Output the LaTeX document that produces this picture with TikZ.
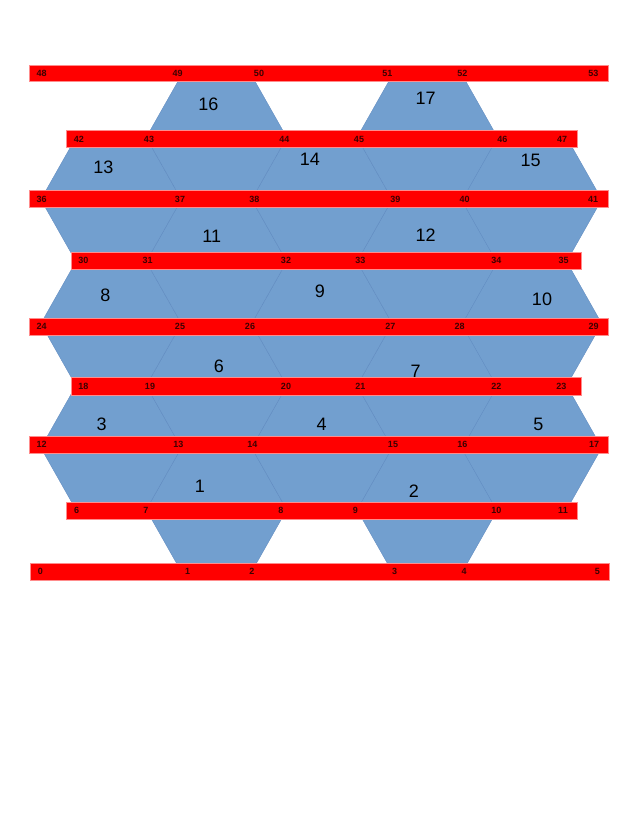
\documentclass[tikz,border=0pt]{standalone}
\usepackage{fontspec}
\setmainfont{Liberation Sans}
\usepackage{xcolor}
\definecolor{barred}{RGB}{255, 0, 0}
\definecolor{barrim}{RGB}{255, 140, 140}
\definecolor{cellblue}{RGB}{114, 159, 207}
\definecolor{cellrim}{RGB}{96, 138, 192}
\definecolor{labeldark}{RGB}{60, 0, 0}

\begin{document}
\begin{tikzpicture}[
    x=1pt, y=-1pt,
    hexcell/.pic={\path[fill=cellblue, draw=cellrim, line width=0.35pt] (-70.3,0) -- (-35.15,-62.05) -- (35.15,-62.05) -- (70.3,0) -- (35.15,62.05) -- (-35.15,62.05) -- cycle;},
    redbar/.style={fill=barred, draw=barrim, line width=0.6pt},
    hexnum/.style={font=\fontsize{18}{18}\selectfont, text=black, inner sep=0pt},
    vlabel/.style={font=\fontsize{9}{9}\selectfont\bfseries, text=labeldark, inner sep=0pt}
]
    \useasboundingbox (0,0) rectangle (638,825);

    % honeycomb cells
    \pic at (216.5,509.7) {hexcell};
    \pic at (427.3,509.7) {hexcell};
    \pic at (111.1,447.7) {hexcell};
    \pic at (321.9,447.7) {hexcell};
    \pic at (531.5,447.7) {hexcell};
    \pic at (216.5,385.7) {hexcell};
    \pic at (427.3,385.7) {hexcell};
    \pic at (111.1,323.6) {hexcell};
    \pic at (321.9,323.6) {hexcell};
    \pic at (531.5,323.6) {hexcell};
    \pic at (216.5,261.5) {hexcell};
    \pic at (427.3,261.5) {hexcell};
    \pic at (111.1,199.5) {hexcell};
    \pic at (321.9,199.5) {hexcell};
    \pic at (531.5,199.5) {hexcell};
    \pic at (216.5,137.4) {hexcell};
    \pic at (427.3,137.4) {hexcell};

    % red bars
    \draw[redbar] (30.5,563.3) rectangle (609,580);
    \draw[redbar] (66.7,502) rectangle (577.3,519);
    \draw[redbar] (29.5,436) rectangle (608.5,453);
    \draw[redbar] (71,377.7) rectangle (581.3,395);
    \draw[redbar] (29.5,318.3) rectangle (608.7,335);
    \draw[redbar] (71,252.3) rectangle (581.3,269.3);
    \draw[redbar] (29.5,190.7) rectangle (608.7,207.7);
    \draw[redbar] (66.7,130.7) rectangle (577.3,147.7);
    \draw[redbar] (29.5,65) rectangle (608.7,81.7);

    % cell numbers
    \node[hexnum] (h1) at (200,486.7) {1};
    \node[hexnum] (h2) at (414,491.7) {2};
    \node[hexnum] (h3) at (101.7,424.3) {3};
    \node[hexnum] (h4) at (321.7,424.3) {4};
    \node[hexnum] (h5) at (538.3,424.3) {5};
    \node[hexnum] (h6) at (219,366.7) {6};
    \node[hexnum] (h7) at (415.7,371.7) {7};
    \node[hexnum] (h8) at (105.3,295) {8};
    \node[hexnum] (h9) at (320,291.7) {9};
    \node[hexnum] (h10) at (542,299) {10};
    \node[hexnum] (h11) at (211.7,236.7) {11};
    \node[hexnum] (h12) at (425.7,235.7) {12};
    \node[hexnum] (h13) at (103.3,167.7) {13};
    \node[hexnum] (h14) at (310,159) {14};
    \node[hexnum] (h15) at (530.7,160.7) {15};
    \node[hexnum] (h16) at (208.3,104.3) {16};
    \node[hexnum] (h17) at (425.7,98.3) {17};

    % vertex numbers
    \node[vlabel] (v0) at (40.3,571.7) {0};
    \node[vlabel] (v1) at (187.7,571.7) {1};
    \node[vlabel] (v2) at (252,571.7) {2};
    \node[vlabel] (v3) at (394.7,571.7) {3};
    \node[vlabel] (v4) at (464,571.7) {4};
    \node[vlabel] (v5) at (597.3,571.7) {5};
    \node[vlabel] (v6) at (76.7,510.5) {6};
    \node[vlabel] (v7) at (146,510.5) {7};
    \node[vlabel] (v8) at (281,510.5) {8};
    \node[vlabel] (v9) at (355.3,510.5) {9};
    \node[vlabel] (v10) at (496.3,510.5) {10};
    \node[vlabel] (v11) at (563,510.5) {11};
    \node[vlabel] (v12) at (41.7,444.5) {12};
    \node[vlabel] (v13) at (178.3,444.5) {13};
    \node[vlabel] (v14) at (252.3,444.5) {14};
    \node[vlabel] (v15) at (393,444.5) {15};
    \node[vlabel] (v16) at (462.3,444.5) {16};
    \node[vlabel] (v17) at (594,444.5) {17};
    \node[vlabel] (v18) at (83.3,386.3) {18};
    \node[vlabel] (v19) at (150,386.3) {19};
    \node[vlabel] (v20) at (286,386.3) {20};
    \node[vlabel] (v21) at (360.3,386.3) {21};
    \node[vlabel] (v22) at (496.3,386.3) {22};
    \node[vlabel] (v23) at (561.3,386.3) {23};
    \node[vlabel] (v24) at (41.7,326.7) {24};
    \node[vlabel] (v25) at (180,326.7) {25};
    \node[vlabel] (v26) at (250,326.7) {26};
    \node[vlabel] (v27) at (390.3,326.7) {27};
    \node[vlabel] (v28) at (459.7,326.7) {28};
    \node[vlabel] (v29) at (593.7,326.7) {29};
    \node[vlabel] (v30) at (83.3,260.8) {30};
    \node[vlabel] (v31) at (147.7,260.8) {31};
    \node[vlabel] (v32) at (286,260.8) {32};
    \node[vlabel] (v33) at (360.3,260.8) {33};
    \node[vlabel] (v34) at (496.3,260.8) {34};
    \node[vlabel] (v35) at (563.7,260.8) {35};
    \node[vlabel] (v36) at (41.7,199.2) {36};
    \node[vlabel] (v37) at (180,199.2) {37};
    \node[vlabel] (v38) at (254.3,199.2) {38};
    \node[vlabel] (v39) at (395.3,199.2) {39};
    \node[vlabel] (v40) at (464.7,199.2) {40};
    \node[vlabel] (v41) at (593,199.2) {41};
    \node[vlabel] (v42) at (79,139.2) {42};
    \node[vlabel] (v43) at (149,139.2) {43};
    \node[vlabel] (v44) at (284.3,139.2) {44};
    \node[vlabel] (v45) at (359,139.2) {45};
    \node[vlabel] (v46) at (502.3,139.2) {46};
    \node[vlabel] (v47) at (562,139.2) {47};
    \node[vlabel] (v48) at (41.7,73.3) {48};
    \node[vlabel] (v49) at (177.7,73.3) {49};
    \node[vlabel] (v50) at (259,73.3) {50};
    \node[vlabel] (v51) at (387.3,73.3) {51};
    \node[vlabel] (v52) at (462.3,73.3) {52};
    \node[vlabel] (v53) at (593.3,73.3) {53};
\end{tikzpicture}
\end{document}
